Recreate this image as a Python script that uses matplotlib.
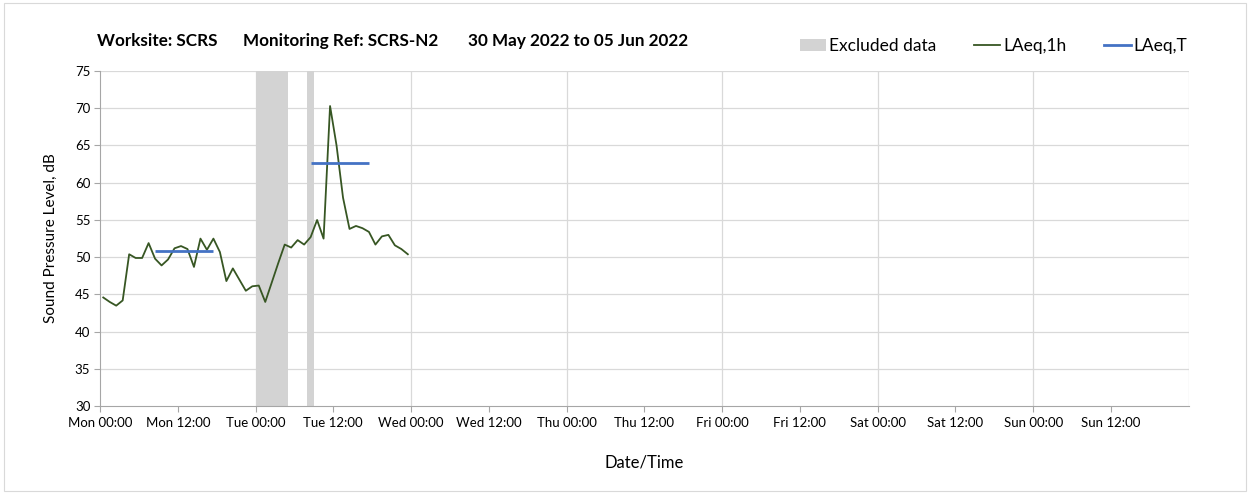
import numpy as np
import matplotlib.pyplot as plt
from matplotlib.patches import Patch, Rectangle
from matplotlib.lines import Line2D

plt.rcParams['font.family'] = ['Lato', 'DejaVu Sans']

# hourly LAeq,1h values, hours from Mon 00:00 (plotted mid-hour)
hour_start = list(range(48))
laeq_1h = [44.6, 44.0, 43.5, 44.2, 50.4, 49.9, 49.9, 51.9, 49.8, 48.9,
           49.7, 51.2, 51.5, 51.1, 48.7, 52.5, 51.0, 52.5, 50.7, 46.8,
           48.5, 47.0, 45.5, 46.1, 46.2, 44.0, 46.6, 49.2, 51.7, 51.3,
           52.3, 51.7, 52.7, 55.0, 52.5, 70.3, 65.0, 58.0, 53.8, 54.2,
           53.9, 53.4, 51.7, 52.8, 53.0, 51.6, 51.1, 50.4]

# LAeq,T periods (start hour, end hour, level)
period_start = [8.5, 32.5]
period_end = [17.5, 41.5]
period_level = [50.9, 62.6]

# excluded data windows (hours)
excl_start = [24.0, 32.0]
excl_end = [29.0, 33.0]

day_names = ['Mon', 'Tue', 'Wed', 'Thu', 'Fri', 'Sat', 'Sun']
tick_hours = list(range(0, 168, 12))
tick_labels = [f"{day_names[h // 24]} {h % 24:02d}:00" for h in tick_hours]

title_parts = ['Worksite: SCRS', 'Monitoring Ref: SCRS-N2', '30 May 2022 to 05 Jun 2022']

fig = plt.figure(figsize=(12.5, 4.93), dpi=100)
ax = fig.add_axes([0.08, 0.176, 0.871, 0.68])

for s, e in zip(excl_start, excl_end):
    ax.axvspan(s, e, color='#D3D3D3', lw=0, zorder=1)

t = np.array(hour_start) + 0.5
ax.plot(t, laeq_1h, color='#375623', lw=1.3, zorder=3)
ax.hlines(period_level, period_start, period_end, color='#4472C4', lw=2, zorder=4)

ax.set_xlim(0, 168)
ax.set_ylim(30, 75)
ax.set_yticks(range(30, 80, 5))
ax.set_xticks(tick_hours)
ax.set_xticklabels(tick_labels, fontsize=9.5)
ax.tick_params(axis='y', labelsize=9.5, length=4, color='#A6A6A6', pad=3)
ax.tick_params(axis='x', length=4, color='#A6A6A6', direction='out', pad=4)

for y in range(35, 80, 5):
    ax.axhline(y, color='#D9D9D9', lw=0.9, zorder=0)
for x in range(24, 169, 24):
    ax.axvline(x, color='#D9D9D9', lw=0.9, zorder=0)

for side in ['top', 'right']:
    ax.spines[side].set_visible(False)
for side in ['left', 'bottom']:
    ax.spines[side].set_color('#A6A6A6')

ax.set_ylabel('Sound Pressure Level, dB', fontsize=11, labelpad=12)
ax.set_xlabel('Date/Time', fontsize=12, labelpad=18)

# title pieces, spaced like the original header
for xpos, txt in zip([0.0776, 0.1944, 0.3744], title_parts):
    fig.text(xpos, 0.916, txt, fontsize=12.3, fontweight='bold', va='center', ha='left')

handles = [Patch(color='#D3D3D3', lw=0),
           Line2D([], [], color='#375623', lw=1.3),
           Line2D([], [], color='#4472C4', lw=2)]
fig.legend(handles, ['Excluded data', 'LAeq,1h', 'LAeq,T'], ncol=3, frameon=False,
           loc='center right', bbox_to_anchor=(0.962, 0.907), fontsize=12.5,
           columnspacing=2.2, handlelength=1.5, handletextpad=0.15)

fig.patches.append(Rectangle((0.003, 0.004), 0.994, 0.99, transform=fig.transFigure,
                             fill=False, edgecolor='#D9D9D9', lw=0.8))

fig.savefig('out.png', dpi=100)
